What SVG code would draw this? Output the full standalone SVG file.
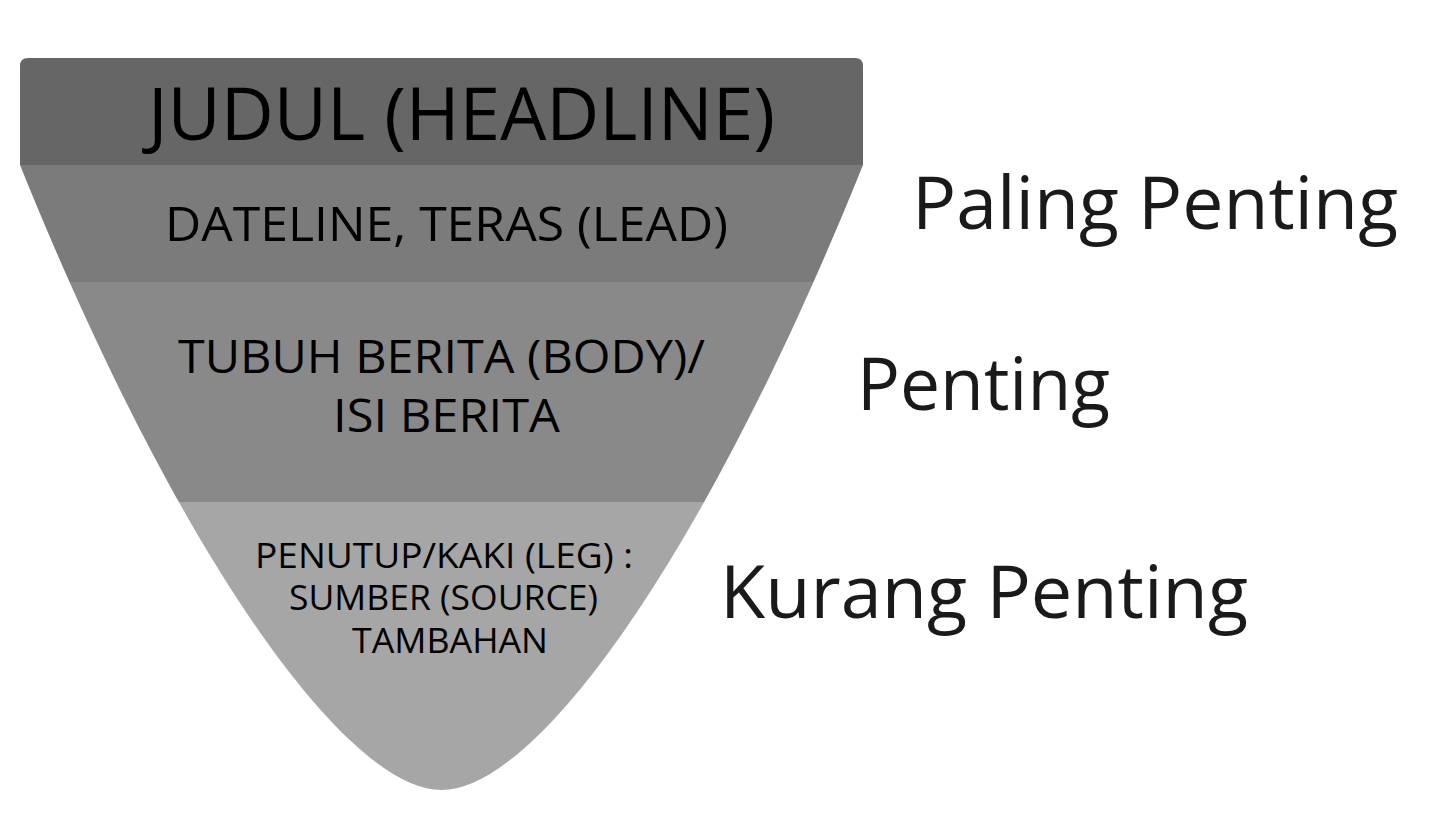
<svg xmlns="http://www.w3.org/2000/svg" width="1436" height="820" viewBox="0 0 1436 820">
  <style>
    .t { font-family: "Open Sans", "Noto Sans", "DejaVu Sans", sans-serif; fill: #000; text-anchor: middle; }
    .lbl { font-family: "Open Sans", "Noto Sans", "DejaVu Sans", sans-serif; fill: #1a1a1a; font-size: 73px; }
  </style>
  <defs>
    <clipPath id="funnelClip">
      <path d="M20,165 C175,550 345,790 441.5,790 C538,790 708,550 863,165 Z"/>
    </clipPath>
  </defs>
  <rect width="1436" height="820" fill="#ffffff"/>

  <g id="funnel-body" clip-path="url(#funnelClip)">
    <g id="dateline">
      <rect x="0" y="164" width="900" height="118" fill="#7b7b7b"/>
    </g>
    <g id="tubuh">
      <rect x="0" y="282" width="900" height="220" fill="#898989"/>
    </g>
    <g id="penutup">
      <rect x="0" y="502" width="900" height="300" fill="#a6a6a6"/>
    </g>
  </g>

  <g id="judul">
    <path d="M20,66 Q20,58 28,58 L855,58 Q863,58 863,66 L863,165 L20,165 Z" fill="#666666"/>
    <text class="t" x="461.5" y="140" font-size="74" textLength="627" lengthAdjust="spacingAndGlyphs">JUDUL (HEADLINE)</text>
  </g>

  <g id="dateline-text">
    <text class="t" x="446.5" y="241" font-size="47" textLength="563" lengthAdjust="spacingAndGlyphs">DATELINE, TERAS (LEAD)</text>
  </g>

  <g id="tubuh-text">
    <text class="t" x="441.5" y="373" font-size="46" textLength="527" lengthAdjust="spacingAndGlyphs">TUBUH BERITA (BODY)/</text>
    <text class="t" x="446.5" y="432" font-size="46" textLength="227" lengthAdjust="spacingAndGlyphs">ISI BERITA</text>
  </g>

  <g id="penutup-text">
    <text class="t" x="444" y="568" font-size="34" textLength="378" lengthAdjust="spacingAndGlyphs">PENUTUP/KAKI (LEG) :</text>
    <text class="t" x="443.5" y="610" font-size="34" textLength="309" lengthAdjust="spacingAndGlyphs">SUMBER (SOURCE)</text>
    <text class="t" x="450" y="653" font-size="34" textLength="196" lengthAdjust="spacingAndGlyphs">TAMBAHAN</text>
  </g>

  <g id="paling-penting">
    <text class="lbl" x="912" y="229" textLength="486" lengthAdjust="spacingAndGlyphs">Paling Penting</text>
  </g>
  <g id="penting">
    <text class="lbl" x="857" y="410" textLength="253" lengthAdjust="spacingAndGlyphs">Penting</text>
  </g>
  <g id="kurang-penting">
    <text class="lbl" x="720" y="618" textLength="528" lengthAdjust="spacingAndGlyphs">Kurang Penting</text>
  </g>

  <g id="connectors"></g>
</svg>
